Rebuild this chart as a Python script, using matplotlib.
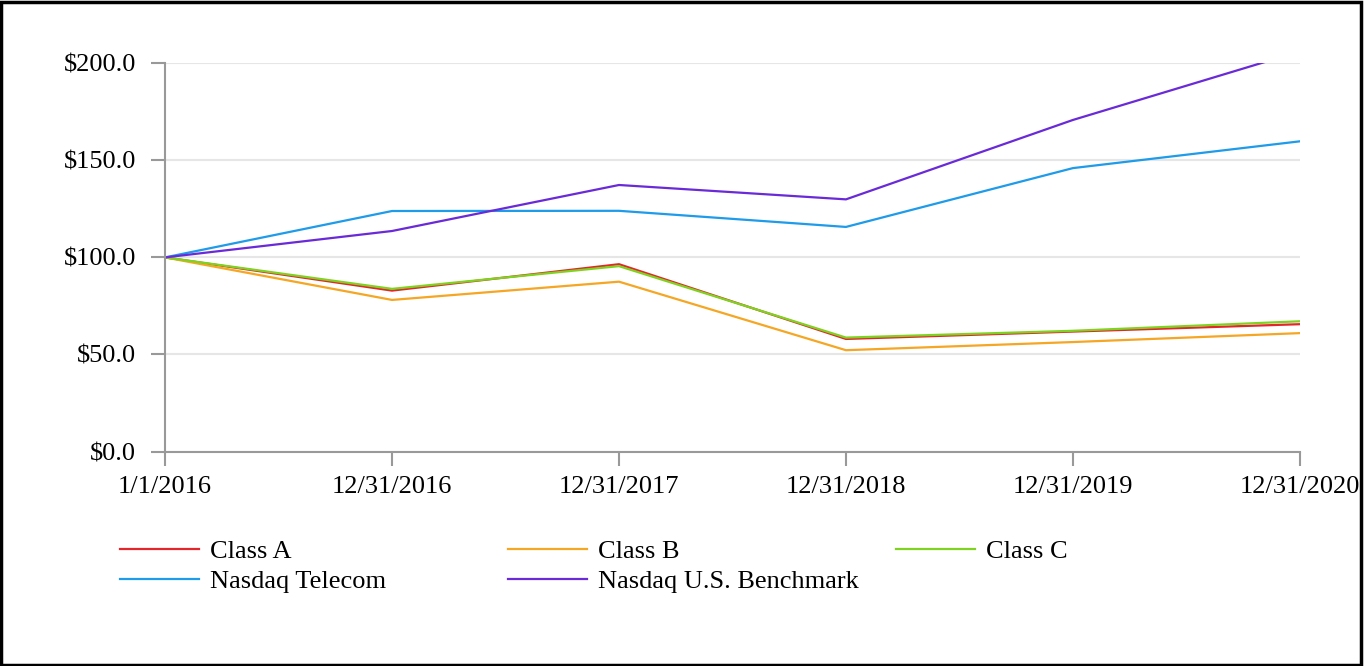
import matplotlib.pyplot as plt
from matplotlib.patches import Rectangle

# data
dates = ["1/1/2016", "12/31/2016", "12/31/2017", "12/31/2018", "12/31/2019", "12/31/2020"]
class_a = [100.0, 82.9, 96.5, 58.0, 61.8, 65.6]
class_b = [100.0, 78.1, 87.5, 52.2, 56.4, 61.0]
class_c = [100.0, 83.8, 95.5, 58.7, 62.2, 67.1]
nasdaq_telecom = [100.0, 123.9, 124.0, 115.7, 146.0, 159.8]
nasdaq_bench = [100.0, 113.6, 137.3, 129.9, 170.8, 206.1]

names = ["Class A", "Class B", "Class C", "Nasdaq Telecom", "Nasdaq U.S. Benchmark"]
series = [class_a, class_b, class_c, nasdaq_telecom, nasdaq_bench]
colors = ["#e3262b", "#f5a623", "#7ed321", "#1e9be9", "#6a2ad8"]

plt.rcParams['font.family'] = ['Liberation Serif', 'DejaVu Serif']

fig = plt.figure(figsize=(13.64, 6.66), dpi=100)
ax = fig.add_axes([0.121, 0.322, 0.832, 0.583])

x = list(range(len(dates)))
lines = []
for vals, name, c in zip(series, names, colors):
    ln, = ax.plot(x, vals, color=c, lw=1.6, label=name)
    lines.append(ln)

ax.set_xlim(0, len(dates) - 1)
ax.set_ylim(0, 200)
ax.set_yticks([0, 50, 100, 150, 200])
ax.set_yticklabels([f"${v:.1f}" for v in [0, 50, 100, 150, 200]])
ax.set_xticks(x)
ax.set_xticklabels(dates)
ax.tick_params(labelsize=19, length=10, width=1.5, color="#999999")
ax.tick_params(axis='y', pad=11)
ax.tick_params(axis='x', pad=7.5)
ax.grid(axis='y', color="#e6e6e6", lw=1.5)
ax.set_axisbelow(True)
for s in ["top", "right"]:
    ax.spines[s].set_visible(False)
for s in ["left", "bottom"]:
    ax.spines[s].set_color("#999999")
    ax.spines[s].set_linewidth(1.5)

# legend laid out in fixed-width columns
for col in range(3):
    hs = lines[col::3]
    fig.legend(hs, [h.get_label() for h in hs], loc='upper left',
               bbox_to_anchor=(120 / 1364 + col * 388 / 1364, 1 - 540 / 666),
               frameon=False, fontsize=19, handlelength=3.0, handletextpad=0.42,
               labelspacing=0.22, borderaxespad=0, borderpad=0)

fig.patches.append(Rectangle((0.001, 0.002), 0.997, 0.995, transform=fig.transFigure,
                             fill=False, edgecolor="black", lw=2.5))

fig.savefig("out.png", dpi=100)
